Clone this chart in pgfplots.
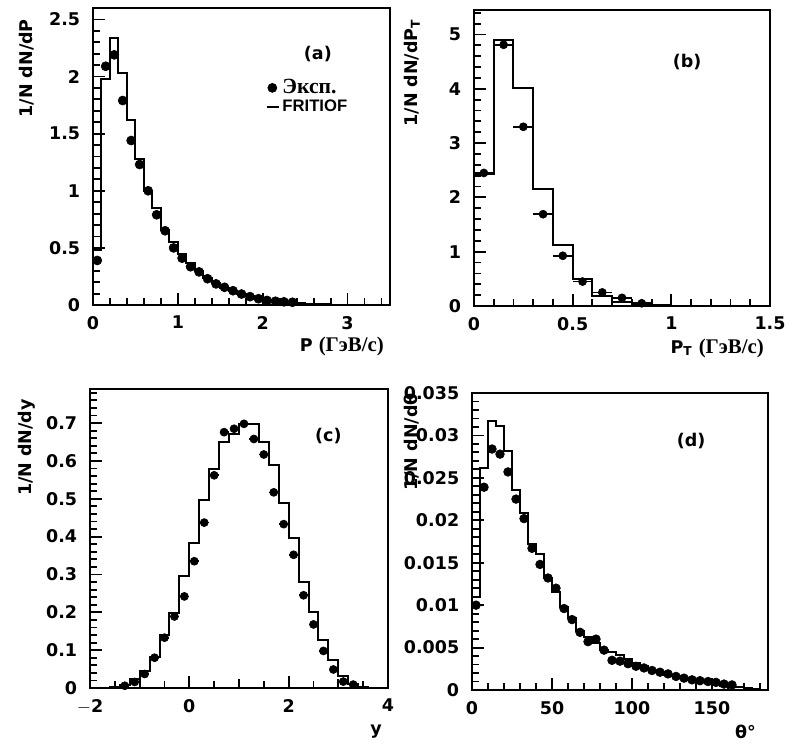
\documentclass[border=0pt]{standalone}
\usepackage{fontspec}
\setmainfont{DejaVu Sans}
\newfontfamily\cyr{Liberation Serif}
\newfontfamily\ari{Liberation Sans}
\usepackage{pgfplots}
\pgfplotsset{compat=1.18}
\newcommand\F{\fontsize{10.5}{12.5}\selectfont\bfseries}
\newcommand\C[1]{{\cyr\fontsize{12.5}{13}\selectfont #1}}
\pgfplotsset{
  paw/.style={
    scale only axis, anchor=north west, clip=false,
    xtick pos=bottom, ytick pos=left, tick align=inside,
    major tick length=7.2pt, minor tick length=4.2pt,
    tick style={black, line width=1pt},
    axis line style={line width=1.3pt},
    tick label style={font=\F},
    yticklabel style={xshift=-4pt},
    xticklabel style={yshift=-3pt},
    scaled ticks=false,
    label style={font=\F},
  },
  hist/.style={const plot, black, line width=1.2pt, mark=none,
    legend image code/.code={\draw[line width=1.1pt] (0pt,0pt) -- (7.5pt,0pt);}},
  pts/.style={only marks, black, mark=*, mark options={fill=black, draw=black},
    error bars/x dir=both, error bars/x fixed=#1, error bars/error mark=none,
    error bars/error bar style={line width=1pt}},
  pts/.default=0,
  tkx/.style={draw=none, mark=none, forget plot,
    error bars/y dir=plus, error bars/y fixed=#1, error bars/error mark=none,
    error bars/error bar style={draw=black, line width=1.1pt}},
  tky/.style={draw=none, mark=none, forget plot,
    error bars/x dir=plus, error bars/x fixed=#1, error bars/error mark=none,
    error bars/error bar style={draw=black, line width=1.1pt}},
}
\begin{document}
\F
\begin{tikzpicture}[font=\F]
\path (0,0) rectangle (478.2pt,-445.8pt);

% ---------------- (a)
\begin{axis}[paw, at={(55.8pt,-4.8pt)}, width=178.2pt, height=178.2pt,
  xmin=0, xmax=3.5, ymin=0, ymax=2.6,
  xtick={0,1,2,3}, xticklabels={0,1,2,3},
  ytick={0,0.5,1,1.5,2,2.5}, yticklabels={0,0.5,1,1.5,2,2.5},
  xlabel={P \C{(ГэВ/с)}}, ylabel={1/N dN/dP},
  xlabel style={at={(axis description cs:1,-0.141)}, anchor=east},
  ylabel style={at={(axis description cs:-0.222,0.983)}, anchor=east},
  legend style={draw=none, fill=none, at={(axis cs:2.03,2.0)}, anchor=north west,
    font=\F, legend cell align=left, row sep=-1pt, inner sep=0pt,
    nodes={inner sep=1.5pt}},
  ]
\addplot[pts, mark size=2.7pt,
  legend image code/.code={\fill[black] (3.5pt,0pt) circle (2.7pt);}] table {
x y
0.05 0.39
0.15 2.09
0.25 2.19
0.35 1.79
0.45 1.44
0.55 1.23
0.65 1.00
0.75 0.79
0.85 0.65
0.95 0.50
1.05 0.41
1.15 0.335
1.25 0.29
1.35 0.23
1.45 0.185
1.55 0.155
1.65 0.125
1.75 0.096
1.85 0.073
1.95 0.055
2.05 0.040
2.15 0.033
2.25 0.028
2.35 0.024
};
\addlegendentry{{\cyr\fontsize{13}{13}\selectfont Эксп.}}
\addplot[hist] coordinates {(0,0)(0,0.48)(0.1,1.98)(0.2,2.34)(0.3,2.03)(0.4,1.62)(0.5,1.28)(0.6,1.00)(0.7,0.85)(0.8,0.66)(0.9,0.55)(1.0,0.45)(1.1,0.37)(1.2,0.30)(1.3,0.24)(1.4,0.19)(1.5,0.15)(1.6,0.12)(1.7,0.095)(1.8,0.075)(1.9,0.058)(2.0,0.045)(2.1,0.035)(2.2,0.027)(2.3,0.02)(2.4,0.015)(2.5,0.011)(2.6,0.008)(2.7,0.006)(2.8,0.004)(2.9,0.003)(3.0,0.002)(3.1,0)(3.5,0)};
\addlegendentry{{\ari\fontsize{10}{12}\selectfont FRITIOF}}
\addplot[tkx=0.0613] coordinates {(0.2,0)(0.4,0)(0.6,0)(0.8,0)(1.2,0)(1.4,0)(1.6,0)(1.8,0)(2.2,0)(2.4,0)(2.6,0)(2.8,0)(3.2,0)(3.4,0)};
\addplot[tkx=0.105] coordinates {(1,0)(2,0)(3,0)};
\addplot[tky=0.0825] coordinates {(0,0.1)(0,0.2)(0,0.3)(0,0.4)(0,0.6)(0,0.7)(0,0.8)(0,0.9)(0,1.1)(0,1.2)(0,1.3)(0,1.4)(0,1.6)(0,1.7)(0,1.8)(0,1.9)(0,2.1)(0,2.2)(0,2.3)(0,2.4)(0,2.6)};
\addplot[tky=0.1414] coordinates {(0,0.5)(0,1)(0,1.5)(0,2)(0,2.5)};
\node at (axis cs:2.65,2.2) {(a)};
\end{axis}

% ---------------- (b)
\begin{axis}[paw, at={(284.4pt,-6pt)}, width=177.6pt, height=177.6pt,
  xmin=0, xmax=1.5, ymin=0, ymax=5.45,
  xtick={0,0.5,1,1.5}, xticklabels={0,0.5,1,1.5},
  ytick={0,1,2,3,4,5}, yticklabels={0,1,2,3,4,5},
  xlabel={P\textsubscript{T} \C{(ГэВ/с)}}, ylabel={1/N dN/dP\textsubscript{T}},
  xlabel style={at={(axis description cs:1,-0.142)}, anchor=east},
  ylabel style={at={(axis description cs:-0.21,0.99)}, anchor=east},
  ]
\addplot[pts=0.05, mark size=2.4pt] table {
x y
0.05 2.45
0.15 4.81
0.25 3.30
0.35 1.69
0.45 0.925
0.55 0.45
0.65 0.25
0.75 0.15
0.85 0.05
};
\addplot[hist] coordinates {(0,0)(0,2.43)(0.1,4.89)(0.2,4.02)(0.3,2.15)(0.4,1.13)(0.5,0.50)(0.6,0.19)(0.7,0.08)(0.8,0.03)(0.9,0.01)(1.0,0)(1.5,0)};
\addplot[tkx=0.1289] coordinates {(0.1,0)(0.2,0)(0.3,0)(0.4,0)(0.6,0)(0.7,0)(0.8,0)(0.9,0)(1.1,0)(1.2,0)(1.3,0)(1.4,0)};
\addplot[tkx=0.2209] coordinates {(0.5,0)(1,0)};
\addplot[tky=0.0355] coordinates {(0,0.2)(0,0.4)(0,0.6)(0,0.8)(0,1.2)(0,1.4)(0,1.6)(0,1.8)(0,2.2)(0,2.4)(0,2.6)(0,2.8)(0,3.2)(0,3.4)(0,3.6)(0,3.8)(0,4.2)(0,4.4)(0,4.6)(0,4.8)(0,5.2)(0,5.4)};
\addplot[tky=0.0608] coordinates {(0,1)(0,2)(0,3)(0,4)(0,5)};
\node at (axis cs:1.08,4.49) {(b)};
\end{axis}

% ---------------- (c)
\begin{axis}[paw, at={(54pt,-233.4pt)}, width=178.8pt, height=179.4pt,
  xmin=-2, xmax=4, ymin=0, ymax=0.79,
  xtick={-2,0,2,4}, xticklabels={$-$2,0,2,4},
  ytick={0,0.1,0.2,0.3,0.4,0.5,0.6,0.7}, yticklabels={0,0.1,0.2,0.3,0.4,0.5,0.6,0.7},
  xlabel={y}, ylabel={1/N dN/dy},
  xlabel style={at={(axis description cs:1,-0.147)}, anchor=east},
  ylabel style={at={(axis description cs:-0.211,0.987)}, anchor=east},
  ]
\addplot[pts=0.09, mark size=2.4pt] table {
x y
-1.3 0.006
-1.1 0.016
-0.9 0.037
-0.7 0.080
-0.5 0.133
-0.3 0.189
-0.1 0.242
0.1 0.335
0.3 0.437
0.5 0.562
0.7 0.676
0.9 0.685
1.1 0.698
1.3 0.658
1.5 0.617
1.7 0.517
1.9 0.433
2.1 0.352
2.3 0.245
2.5 0.168
2.7 0.098
2.9 0.049
3.1 0.017
3.3 0.009
};
\addplot[hist] coordinates {(-2,0)(-1.8,0.001)(-1.6,0.003)(-1.4,0.008)(-1.2,0.025)(-1.0,0.044)(-0.8,0.083)(-0.6,0.140)(-0.4,0.198)(-0.2,0.295)(0,0.384)(0.2,0.498)(0.4,0.578)(0.6,0.650)(0.8,0.672)(1.0,0.698)(1.2,0.698)(1.4,0.650)(1.6,0.590)(1.8,0.490)(2.0,0.396)(2.2,0.280)(2.4,0.202)(2.6,0.128)(2.8,0.075)(3.0,0.033)(3.2,0.010)(3.4,0.003)(3.6,0)(4,0)};
\addplot[tkx=0.0185] coordinates {(-1.5,0)(-0.5,0)(0.5,0)(1.5,0)(2.5,0)(3.5,0)};
\addplot[tkx=0.0247] coordinates {(-1,0)(1,0)(3,0)};
\addplot[tkx=0.0317] coordinates {(0,0)(2,0)};
\addplot[tky=0.1409] coordinates {(-2,0.02)(-2,0.04)(-2,0.06)(-2,0.08)(-2,0.12)(-2,0.14)(-2,0.16)(-2,0.18)(-2,0.22)(-2,0.24)(-2,0.26)(-2,0.28)(-2,0.32)(-2,0.34)(-2,0.36)(-2,0.38)(-2,0.42)(-2,0.44)(-2,0.46)(-2,0.48)(-2,0.52)(-2,0.54)(-2,0.56)(-2,0.58)(-2,0.62)(-2,0.64)(-2,0.66)(-2,0.68)(-2,0.72)(-2,0.74)(-2,0.76)(-2,0.78)};
\addplot[tky=0.2416] coordinates {(-2,0.1)(-2,0.2)(-2,0.3)(-2,0.4)(-2,0.5)(-2,0.6)(-2,0.7)};
\node at (axis cs:2.8,0.667) {(c)};
\end{axis}

% ---------------- (d)
\begin{axis}[paw, at={(283.2pt,-235.8pt)}, width=177.6pt, height=178.2pt,
  xmin=0, xmax=185, ymin=0, ymax=0.035,
  xtick={0,50,100,150}, xticklabels={0,50,100,150},
  ytick={0,0.005,0.01,0.015,0.02,0.025,0.03,0.035},
  yticklabels={0,0.005,0.01,0.015,0.02,0.025,0.03,0.035},
  xlabel={θ°}, ylabel={1/N dN/dθ},
  xlabel style={at={(axis description cs:0.98,-0.141)}, anchor=east},
  ylabel style={at={(axis description cs:-0.203,1.02)}, anchor=east},
  ]
\addplot[pts, mark size=2.6pt] table {
x y
2.5 0.0100
7.5 0.0239
12.5 0.0284
17.5 0.0278
22.5 0.0257
27.5 0.0225
32.5 0.0202
37.5 0.0167
42.5 0.0148
47.5 0.0132
52.5 0.0120
57.5 0.0096
62.5 0.0083
67.5 0.0068
72.5 0.0057
77.5 0.0060
82.5 0.0047
87.5 0.0035
92.5 0.0034
97.5 0.0031
102.5 0.0028
107.5 0.0026
112.5 0.0023
117.5 0.0021
122.5 0.0019
127.5 0.0016
132.5 0.0014
137.5 0.0012
142.5 0.0011
147.5 0.0010
152.5 0.0009
157.5 0.0007
162.5 0.0006
};
\addplot[hist] coordinates {(0,0)(0,0.011)(5,0.0262)(10,0.0317)(15,0.0311)(20,0.0282)(25,0.0236)(30,0.0209)(35,0.0172)(40,0.0160)(45,0.0132)(50,0.0116)(55,0.0098)(60,0.0085)(65,0.0070)(70,0.0062)(75,0.0055)(80,0.0047)(85,0.0045)(90,0.0041)(95,0.0036)(100,0.0032)(105,0.0028)(110,0.0024)(115,0.0021)(120,0.0018)(125,0.0016)(130,0.0014)(135,0.0012)(140,0.0010)(145,0.0009)(150,0.0007)(155,0.0005)(160,0.0004)(165,0.0003)(170,0.0002)(175,0.0001)(180,0)(185,0)};
\addplot[tkx=0.000825] coordinates {(10,0)(20,0)(30,0)(40,0)(60,0)(70,0)(80,0)(90,0)(110,0)(120,0)(130,0)(140,0)(160,0)(170,0)(180,0)};
\addplot[tkx=0.001414] coordinates {(50,0)(100,0)(150,0)};
\addplot[tky=4.375] coordinates {(0,0.001)(0,0.002)(0,0.003)(0,0.004)(0,0.006)(0,0.007)(0,0.008)(0,0.009)(0,0.011)(0,0.012)(0,0.013)(0,0.014)(0,0.016)(0,0.017)(0,0.018)(0,0.019)(0,0.021)(0,0.022)(0,0.023)(0,0.024)(0,0.026)(0,0.027)(0,0.028)(0,0.029)(0,0.031)(0,0.032)(0,0.033)(0,0.034)};
\addplot[tky=7.5] coordinates {(0,0.005)(0,0.01)(0,0.015)(0,0.02)(0,0.025)(0,0.03)};
\node at (axis cs:137,0.0294) {(d)};
\end{axis}
\end{tikzpicture}
\end{document}
